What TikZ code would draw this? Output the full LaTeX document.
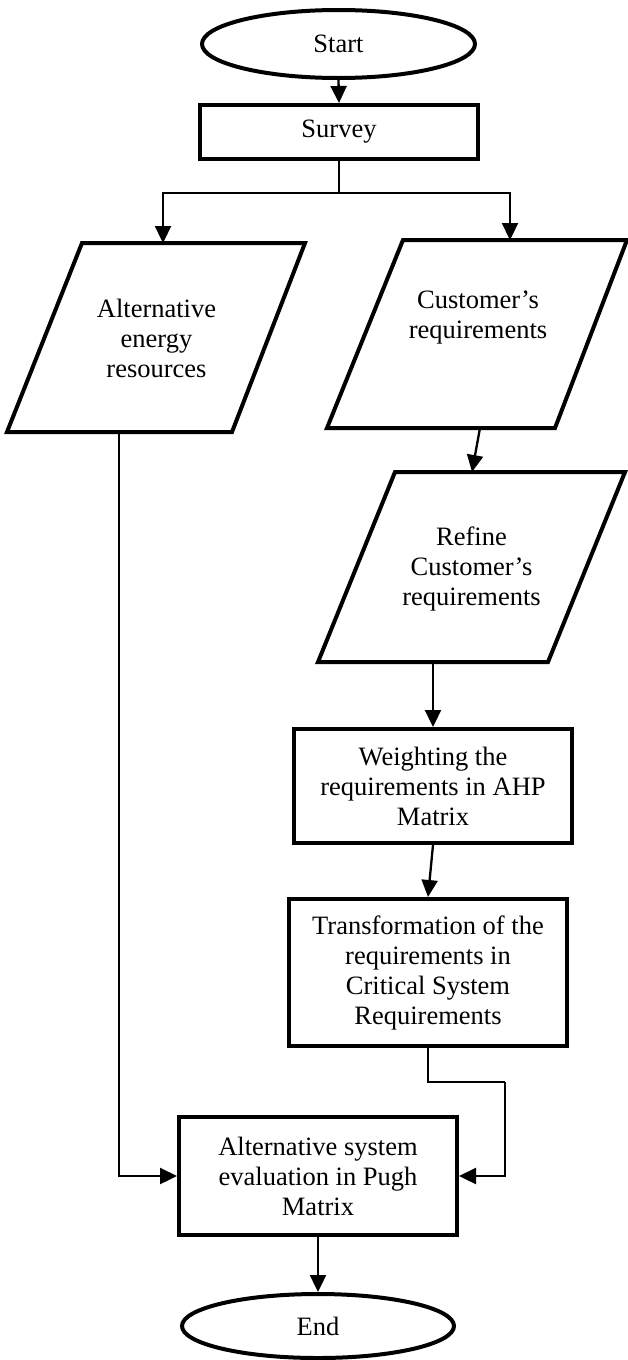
\documentclass[tikz,border=0pt]{standalone}
\usepackage{fontspec}
\setmainfont{Liberation Serif}
\usetikzlibrary{shapes.geometric,arrows.meta}
\begin{document}
\begin{tikzpicture}[x=1pt,y=-1pt,
  txt/.style={font=\fontsize{26.5}{30}\selectfont, align=center, inner sep=0pt},
  box/.style={txt, draw, line width=4pt, rectangle},
  term/.style={txt, draw, line width=4pt, ellipse},
  para/.style={draw, line width=4pt, line join=miter},
  conn/.style={line width=2.3pt},
  arr/.style={conn, -{Triangle[length=17pt,width=16pt]}}
]
\useasboundingbox (0,0) rectangle (628,1360);

% terminals and boxes
\node[term, minimum width=273pt, minimum height=68pt] (start) at (338.5,44) {Start};
\node[box, minimum width=278pt, minimum height=54pt] (survey) at (339,132) {Survey};
\node[box, minimum width=278pt, minimum height=114pt] (weight) at (433,786)
  {Weighting the\\requirements in AHP\\Matrix};
\node[box, minimum width=278pt, minimum height=147pt] (trans) at (428,972.5)
  {Transformation of the\\requirements in\\Critical System\\Requirements};
\node[box, minimum width=278pt, minimum height=118pt] (pugh) at (318,1176)
  {Alternative system\\evaluation in Pugh\\Matrix};
\node[term, minimum width=272pt, minimum height=64pt] (end) at (318,1326) {End};

% parallelograms
\draw[para] (82,243) -- (305,243) -- (232,432) -- (7,432) -- cycle;
\node[txt] (alt) at (156.5,338) {Alternative\\energy\\resources};
\draw[para] (403,240) -- (627,240) -- (555,428) -- (327,428) -- cycle;
\node[txt] (cust) at (478,318) {Customer’s\\requirements};
\draw[para] (395,472) -- (625,472) -- (548,662) -- (318,662) -- cycle;
\node[txt] (refine) at (471.5,569) {Refine\\Customer’s\\requirements};

% connection points
\coordinate (split) at (339,193);
\coordinate (altIn) at (163,243);
\coordinate (custIn) at (510,240);
\coordinate (altOut) at (119,432);
\coordinate (custOut) at (480,428);
\coordinate (refIn) at (472,472);
\coordinate (refOut) at (433,662);
\coordinate (bend) at (505,1082);

% connectors
\draw[arr] (start.south) -- (survey.north);
\draw[conn] (survey.south) -- (split);
\draw[arr] (split) -| (altIn);
\draw[arr] (split) -| (custIn);
\draw[arr] (custOut) -- (refIn);
\draw[arr] (refOut) -- (weight.north);
\draw[arr] (weight.south) -- (trans.north);
\draw[conn] (trans.south) |- (bend);
\draw[arr] (bend) |- (pugh.east);
\draw[arr] (altOut) |- (pugh.west);
\draw[arr] (pugh.south) -- (end.north);
\end{tikzpicture}
\end{document}
